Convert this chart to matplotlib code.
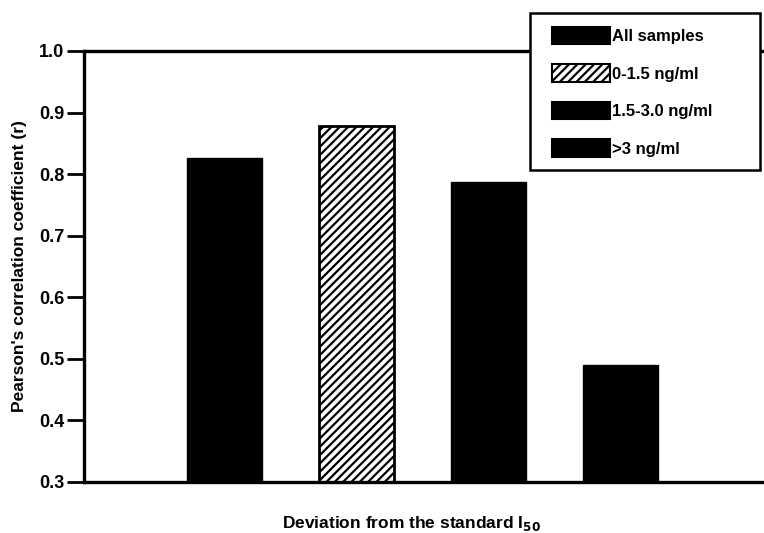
import matplotlib
matplotlib.use("Agg")
import matplotlib.pyplot as plt
from matplotlib.patches import Patch, Rectangle

categories = ["All samples", "0-1.5 ng/ml", "1.5-3.0 ng/ml", ">3 ng/ml"]
values = [0.827, 0.879, 0.788, 0.490]
hatches = ["", "////", "", ""]
yticks = [0.3, 0.4, 0.5, 0.6, 0.7, 0.8, 0.9, 1.0]

plt.rcParams['font.family'] = ['Liberation Sans', 'DejaVu Sans']
plt.rcParams['hatch.linewidth'] = 1.6

W, H = 764, 533
fig = plt.figure(figsize=(W / 100, H / 100), dpi=100)
ax = fig.add_axes([84 / W, 51 / H, 1 - 84 / W, 431 / H])

x = list(range(len(values)))
for xi, v, h in zip(x, values, hatches):
    if h:
        ax.bar(xi, v - 0.3, bottom=0.3, width=0.57, color="white", edgecolor="black",
               hatch=h, linewidth=2)
    else:
        ax.bar(xi, v - 0.3, bottom=0.3, width=0.57, color="black", edgecolor="black")

ax.set_ylim(0.3, 1.0)
ax.set_xlim(-1.065, 4.09)
ax.set_yticks(yticks)
ax.set_yticklabels([f"{t:.1f}" for t in yticks], fontsize=13, fontweight="bold")
ax.set_xticks([])
ax.tick_params(axis="y", direction="out", length=12, width=2, pad=2)
for s in ["left", "bottom", "top"]:
    ax.spines[s].set_linewidth(2.4)
ax.spines["right"].set_visible(False)

ax.set_ylabel("Pearson's correlation coefficient (r)", fontsize=12.5, fontweight="bold", labelpad=9)
ax.set_xlabel("Deviation from the standard I$_{\\mathbf{50}}$", fontsize=12.5, fontweight="bold")
ax.xaxis.set_label_coords(0.481, -0.075)

# legend frame box
fig.patches.append(Rectangle((530 / W, 1 - 170 / H), 230 / W, 157 / H, transform=fig.transFigure,
                             facecolor="white", edgecolor="black", linewidth=1.8, zorder=5))

handles = [Patch(facecolor="white" if h else "black", edgecolor="black", hatch=h, linewidth=1.5)
           for h in hatches]
leg = fig.legend(handles, categories, loc="upper left", bbox_to_anchor=(552 / W, 1 - 27 / H),
                 frameon=False, fancybox=False, handlelength=3.5, handleheight=1.2,
                 handletextpad=0.1, labelspacing=1.22, borderpad=0, borderaxespad=0,
                 prop={"weight": "bold", "size": 12})
leg.set_zorder(6)

fig.savefig("out.png", dpi=100)
